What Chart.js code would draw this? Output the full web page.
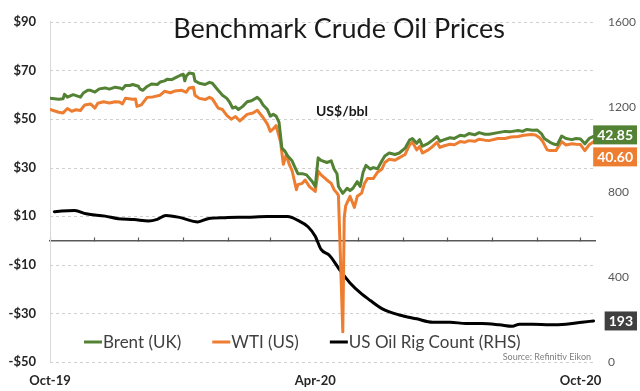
<!DOCTYPE html>
<html>
<head>
<meta charset="utf-8">
<title>Benchmark Crude Oil Prices</title>
<script src="https://cdn.jsdelivr.net/npm/chart.js@4.4.1/dist/chart.umd.min.js"></script>
<style>
  html, body { margin: 0; padding: 0; background: #fff; }
  #wrap { width: 640px; height: 391px; position: relative; }
</style>
</head>
<body>
<div id="wrap"><canvas id="oilChart"></canvas></div>
<script>
// x values are days counted from 1 Oct 2019
const brentDays = [0,6,9,10,12,16,21,23,26,28,31,34,38,41,45,48,50,52,55,57,61,62,64,67,70,74,76,79,81,84,86,90,92,93,94,96,99,100,103,107,110,112,116,119,122,124,126,128,130,133,136,139,143,145,147,150,152,154,156,158,160,162,164,167,169,171,174,177,181,183,185,187,191,194,196,198,199,202,205,207,209,212,214,216,218,221,223,226,229,231,234,238,241,245,248,250,253,255,257,261,264,267,269,272,276,279,283,286,289,293,296,300,303,309,314,318,323,326,329,333,336,339,341,345,348,350,353,356,360,363,366,369,372,375];
const brentPrice = [58.5,58.1,58.3,60.2,59.0,60.0,59.0,60.7,61.8,61.8,61.1,62.4,62.8,62.3,63.1,62.8,62.3,63.8,63.8,64.2,63.5,62.4,61.8,63.4,64.4,64.2,65.2,65.7,66.4,66.2,66.8,68.0,68.4,65.7,67.7,68.9,68.6,65.7,64.7,64.2,65.1,64.7,61.8,59.8,58.5,56.8,54.5,55.0,53.9,55.2,57.1,57.5,58.9,57.8,55.8,53.9,51.2,51.9,51.2,48.7,38.0,36.8,34.8,32.8,30.1,27.5,27.5,27.0,24.2,22.2,34.0,33.0,32.1,32.8,29.4,27.5,22.2,19.4,21.5,20.5,21.5,24.2,22.2,28.1,30.9,29.4,30.0,29.5,32.8,34.8,36.0,35.4,36.0,38.0,41.3,42.0,40.0,41.5,38.8,40.0,41.3,42.8,40.8,41.5,42.3,42.0,43.3,43.0,44.0,43.5,44.4,43.7,43.7,44.4,44.9,44.8,45.3,44.9,45.7,45.4,45.5,44.0,42.0,40.4,39.6,39.4,43.0,42.0,41.5,42.0,41.8,39.8,42.0,42.85];

const wtiDays = [0,6,9,12,15,18,21,24,28,31,33,37,41,45,48,50,52,57,59,60,63,67,71,76,79,83,86,91,94,96,99,100,103,107,110,112,116,119,122,125,128,131,136,140,143,147,150,152,154,156,159,161,163,165,167,170,171,174,176,179,183,185,187,191,194,196,198,199,202,203,204,205,207,210,212,215,217,219,223,226,229,231,234,238,241,245,248,250,253,255,257,261,264,267,269,272,276,279,283,286,289,293,296,300,303,309,314,318,323,327,332,335,338,340,343,345,349,353,356,360,363,366,369,372,375];
const wtiPrice = [53.9,52.8,52.5,54.3,53.2,53.8,53.5,55.8,56.2,54.5,56.5,57.1,56.6,57.1,57.0,56.2,58.5,58.1,58.2,55.2,55.8,58.9,59.1,59.8,61.4,60.8,61.5,61.8,61.0,62.8,63.1,59.8,58.5,58.0,58.9,58.3,54.5,53.9,51.5,49.9,51.0,49.2,51.9,52.5,53.6,50.6,47.9,44.9,45.9,47.3,40.7,31.4,35.4,31.4,28.8,20.9,23.0,23.5,24.9,22.2,20.2,28.5,27.0,24.9,23.5,20.9,19.5,18.5,-37.6,9.5,14.3,15.6,18.2,13.6,18.2,19.5,23.5,25.5,25.5,28.1,29.4,32.1,33.4,33.0,34.1,35.4,39.3,40.5,37.3,38.7,36.0,37.3,38.7,40.4,38.3,39.0,39.6,39.4,40.7,40.4,41.1,40.8,41.7,41.3,41.1,42.0,42.0,42.6,42.8,43.3,43.6,43.4,42.2,40.7,37.3,37.0,37.0,40.7,39.3,39.8,39.6,39.5,37.0,39.4,40.6];

const rigDays = [3,8,17,25,38,47,58,68,74,80,90,102,109,121,136,150,164,171,178,183,187,193,200,207,214,221,229,241,253,264,276,287,298,310,319,324,333,345,356,367,375];
const rigCount = [707,710,712,697,686,674,670,663,671,689,679,659,674,679,681,684,684,666,636,591,530,500,432,372,326,289,251,221,203,187,187,181,181,175,168,178,178,175,178,187,193];

const seriesNames = ['Brent (UK)', 'WTI (US)', 'US Oil Rig Count (RHS)'];
const seriesColors = ['#548235', '#ED7D31', '#000000'];

const monthTicks = [0,31,61,92,123,152,183,213,244,274,305,336,366];
const monthLabels = { 0: 'Oct-19', 183: 'Apr-20', 366: 'Oct-20' };
const priceTicks = [-50,-30,-10,10,30,50,70,90];
const rigTicks = [0,400,800,1200,1600];

const FONT = 'Lato, "Open Sans", sans-serif';
const pts = (xs, ys) => xs.map((d, i) => ({ x: d, y: ys[i] }));

// dashed horizontal gridlines at the price ticks
const dashedGrid = {
  id: 'dashedGrid',
  beforeDatasetsDraw(chart) {
    const { ctx, chartArea: a } = chart;
    const ys = chart.scales.y;
    ctx.save();
    ctx.strokeStyle = '#d0d0d0';
    ctx.lineWidth = 1;
    ctx.setLineDash([3, 3]);
    priceTicks.forEach(v => {
      const py = Math.round(ys.getPixelForValue(v)) + 0.5;
      ctx.beginPath();
      ctx.moveTo(a.left, py);
      ctx.lineTo(a.right, py);
      ctx.stroke();
    });
    ctx.restore();
  }
};

// text that sits inside the plot: title, unit, legend, source and end tags
const overlay = {
  id: 'overlay',
  afterDraw(chart) {
    const ctx = chart.ctx;
    ctx.save();
    ctx.textBaseline = 'middle';

    ctx.fillStyle = '#1a1a1a';
    ctx.textAlign = 'center';
    ctx.font = '27px ' + FONT;
    ctx.fillText('Benchmark Crude Oil Prices', 339, 29);

    ctx.font = 'bold 14px ' + FONT;
    ctx.fillText('US$/bbl', 342, 111);

    // legend
    ctx.textAlign = 'left';
    ctx.font = '17px ' + FONT;
    let lx = 84;
    const ly = 342;
    chart.data.datasets.forEach(ds => {
      ctx.strokeStyle = ds.borderColor;
      ctx.lineWidth = 3;
      ctx.beginPath();
      ctx.moveTo(lx, ly);
      ctx.lineTo(lx + 18, ly);
      ctx.stroke();
      ctx.fillStyle = '#404040';
      ctx.fillText(ds.label, lx + 19, ly + 1);
      lx += 19 + ctx.measureText(ds.label).width + 31;
    });

    ctx.textAlign = 'right';
    ctx.font = '9px ' + FONT;
    ctx.fillStyle = '#808080';
    ctx.fillText('Source: Refinitiv Eikon', 591, 357);

    // value tags at the right end of each line
    const lastY = i => {
      const d = chart.getDatasetMeta(i).data;
      return d[d.length - 1].y;
    };
    const tag = (text, y, bg) => {
      ctx.font = 'bold 14px ' + FONT;
      const w = ctx.measureText(text).width + 8;
      ctx.fillStyle = bg;
      ctx.fillRect(637 - w, y - 9.5, w, 19);
      ctx.fillStyle = '#ffffff';
      ctx.textAlign = 'center';
      ctx.fillText(text, 637 - w / 2, y + 0.5);
    };
    const yB = lastY(0) - 1.5;
    const yW = Math.max(lastY(1), yB + 22);
    tag(brentPrice[brentPrice.length - 1].toFixed(2), yB, seriesColors[0]);
    tag(wtiPrice[wtiPrice.length - 1].toFixed(2), yW, seriesColors[1]);
    tag(String(rigCount[rigCount.length - 1]), lastY(2), '#404040');
    ctx.restore();
  }
};

new Chart(document.getElementById('oilChart'), {
  type: 'line',
  data: {
    datasets: [
      { label: seriesNames[0], data: pts(brentDays, brentPrice), borderColor: seriesColors[0], yAxisID: 'y' },
      { label: seriesNames[1], data: pts(wtiDays, wtiPrice), borderColor: seriesColors[1], yAxisID: 'y' },
      { label: seriesNames[2], data: pts(rigDays, rigCount), borderColor: seriesColors[2], yAxisID: 'y1',
        cubicInterpolationMode: 'monotone' }
    ]
  },
  options: {
    responsive: true,
    maintainAspectRatio: false,
    animation: false,
    layout: { padding: { top: 9, left: 0, right: 0, bottom: 0 } },
    elements: {
      point: { radius: 0 },
      line: { borderWidth: 3, borderJoinStyle: 'round', borderCapStyle: 'round' }
    },
    plugins: { legend: { display: false }, tooltip: { enabled: false } },
    scales: {
      x: {
        type: 'linear', min: 0, max: 376,
        afterBuildTicks: s => { s.ticks = monthTicks.map(v => ({ value: v })); },
        afterFit: s => { s.height = 29; },
        grid: { display: false, drawTicks: false },
        border: { display: false },
        ticks: {
          autoSkip: false, maxRotation: 0, padding: 11,
          color: '#262626', font: { family: FONT, size: 13, weight: 'bold' },
          callback: v => monthLabels[v] || ''
        }
      },
      xZero: {
        type: 'linear', axis: 'x', position: { y: 0 }, min: 0, max: 376,
        afterBuildTicks: s => { s.ticks = monthTicks.map(v => ({ value: v })); },
        grid: { drawOnChartArea: false, drawTicks: true, tickLength: -4, tickColor: '#595959', tickWidth: 1.2 },
        border: { display: true, color: '#595959', width: 1.5 },
        ticks: { display: false }
      },
      y: {
        position: 'left', min: -50, max: 90,
        afterBuildTicks: s => { s.ticks = priceTicks.map(v => ({ value: v })); },
        afterFit: s => { s.width = 50; },
        grid: { drawOnChartArea: false, drawTicks: false },
        border: { display: true, color: '#d9d9d9', width: 1 },
        ticks: {
          padding: 14, color: '#262626',
          font: { family: FONT, size: 13, weight: 'bold' },
          callback: v => (v < 0 ? '-$' : '$') + Math.abs(v)
        }
      },
      y1: {
        position: 'right', min: 0, max: 1600,
        afterBuildTicks: s => { s.ticks = rigTicks.map(v => ({ value: v })); },
        afterFit: s => { s.width = 45; },
        grid: { drawOnChartArea: false, drawTicks: false },
        border: { display: false },
        ticks: { padding: 13, color: '#595959', font: { family: FONT, size: 12 }, callback: v => String(v) }
      }
    }
  },
  plugins: [dashedGrid, overlay]
});
</script>
</body>
</html>
